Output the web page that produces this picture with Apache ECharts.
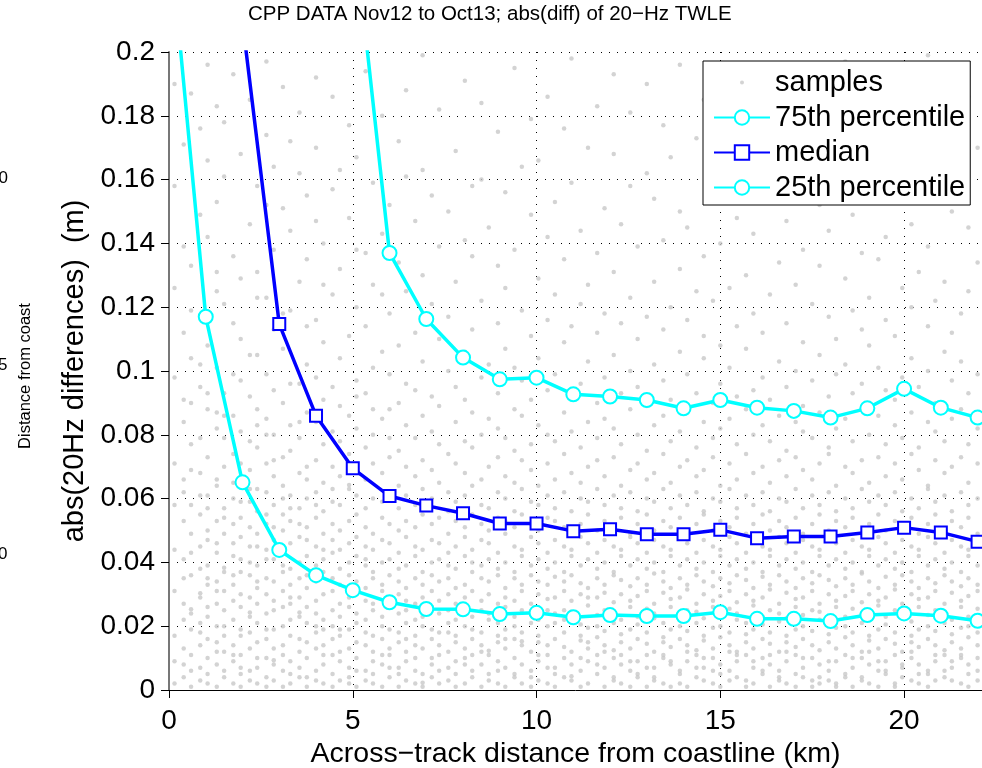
<!DOCTYPE html>
<html>
<head>
<meta charset="utf-8">
<script src="https://cdn.jsdelivr.net/npm/echarts@6.0.0/dist/echarts.min.js"></script>
<style>
  html, body { margin: 0; padding: 0; background: #fff; }
  #chart { width: 982px; height: 768px; }
</style>
</head>
<body>
<div id="chart"></div>
<script>
// across-track distance of the percentile points (km)
const distance = [0, 1, 2, 3, 4, 5, 6, 7, 8, 9, 10, 11, 12, 13, 14, 15, 16, 17, 18, 19, 20, 21, 22];

// percentiles of abs(20Hz differences) (m); null = not drawn
const p75 = [null, null, null, null, null, 0.242, 0.137, 0.1163, 0.1042, 0.0974, 0.0979, 0.0927, 0.092,
  0.0909, 0.0883, 0.0909, 0.0885, 0.0875, 0.0854, 0.0883, 0.0944, 0.0885, 0.0854];
const median = [null, null, 0.2095, 0.1147, 0.086, 0.0695, 0.0608, 0.0578, 0.0554, 0.0522, 0.0522, 0.0498, 0.0504,
  0.0488, 0.0488, 0.0502, 0.0476, 0.0481, 0.0481, 0.0494, 0.0509, 0.0494, 0.0465];
const p25 = [0.239, 0.117, 0.0651, 0.0439, 0.036, 0.0313, 0.0275, 0.0254, 0.0253, 0.0238, 0.0242, 0.0228, 0.0235,
  0.0232, 0.0232, 0.0244, 0.0223, 0.0223, 0.0216, 0.0235, 0.024, 0.0233, 0.0217];

// background samples: column positions (km) and the values in each column (mm)
const sampleX = [0.15, 0.4, 0.6, 0.85, 1.05, 1.3, 1.5, 1.75, 1.95, 2.2, 2.4, 2.65, 2.85, 3.1, 3.3, 3.55, 3.75, 4.0,
  4.2, 4.45, 4.65, 4.9, 5.1, 5.35, 5.55, 5.8, 6.0, 6.25, 6.45, 6.7, 6.9, 7.15, 7.35, 7.6, 7.8, 8.05, 8.25, 8.5,
  8.7, 8.95, 9.15, 9.4, 9.6, 9.85, 10.05, 10.3, 10.5, 10.75, 10.95, 11.2, 11.4, 11.65, 11.85, 12.1, 12.3, 12.55,
  12.75, 13.0, 13.2, 13.45, 13.65, 13.9, 14.1, 14.35, 14.55, 14.8, 15.0, 15.25, 15.45, 15.7, 15.9, 16.15, 16.35,
  16.6, 16.8, 17.05, 17.25, 17.5, 17.7, 17.95, 18.15, 18.4, 18.6, 18.85, 19.05, 19.3, 19.5, 19.75, 19.95, 20.2,
  20.4, 20.65, 20.85, 21.1, 21.3, 21.55, 21.75, 22.0];
const sampleY = [
  [2, 9, 17, 31, 44, 58, 71, 98, 126, 158, 190],
  [4, 8, 13, 22, 27, 35, 41, 53, 62, 66, 84, 91, 112, 139, 171],
  [1, 6, 11, 19, 24, 25.3, 36, 43, 49, 58, 69, 77, 90, 104, 119, 133, 187],
  [3, 7, 14, 18, 21, 29, 30.3, 38, 45, 55, 61, 68, 79, 95, 102, 117, 149, 176],
  [2, 5, 10, 16, 23, 26, 33, 35, 39, 47, 50, 57, 61, 73, 88, 93, 108, 142, 166, 196],
  [1, 8, 12, 15, 20, 27, 31, 34, 43, 46, 53, 64, 66, 82, 87, 101, 125, 131, 153, 183],
  [4, 6, 12, 17, 20, 25, 31, 37, 38.3, 49, 54, 57, 70, 79, 86, 93, 121, 161, 178],
  [2, 9, 11, 14, 22, 28, 33, 36, 42, 46, 52, 60, 65, 74, 86, 99, 115, 136, 193],
  [1, 5, 7, 11, 17, 19, 26, 30, 37, 41, 48, 54, 59, 65, 71, 81, 97, 110, 129, 168],
  [3, 6, 13, 18, 23, 24.3, 29, 36, 40, 45, 51, 59, 63, 69, 78, 92, 105, 146, 185],
  [2, 7, 10, 15, 21, 27, 32, 34, 39, 45, 49, 56, 63, 76, 83, 88, 105, 123, 131, 158],
  [1, 4, 10, 16, 19, 24, 30, 35, 41, 44, 52, 55, 62, 71, 80, 85, 99, 123, 152, 174, 197],
  [3, 8, 9.3, 13, 19, 25, 28, 34, 41, 47, 51, 58, 67, 72, 80, 94, 113, 138, 164],
  [1, 6, 11, 14, 20, 26, 31, 37, 39, 43, 50, 55, 60, 64, 73, 90, 107, 118, 151, 189],
  [2, 5, 9, 17, 22, 27, 29, 33, 38, 46, 53, 57, 61, 75, 83, 96, 119, 144, 172],
  [4, 7, 12, 16, 23, 24.3, 29, 35, 40, 48, 52, 57, 68, 79, 84, 96, 128, 162, 181],
  [1, 4, 10, 15, 21, 26, 32, 36, 42, 47, 51, 60, 66, 70, 87, 102, 114, 135, 155],
  [3, 6, 13, 18, 20, 24, 28, 34, 39, 45, 54, 58, 62, 72, 84, 98, 116, 147, 170, 192],
  [2, 8, 11, 14, 19, 22, 30, 37, 41, 44, 49, 56, 65, 77, 91, 109, 127, 140],
  [1, 5, 11, 16, 20, 25, 31, 35, 43, 47, 52, 59, 63, 70, 81, 95, 124, 157, 186],
  [3, 9, 12, 17, 19, 23, 27, 33, 38, 44, 50, 58, 67, 78, 89, 104, 132, 163],
  [2, 4, 7, 13, 19, 26, 29, 36, 40, 46, 53, 63, 64.3, 74, 86, 111, 148, 177],
  [1, 6, 10, 15, 21, 24, 30, 34, 42, 48, 55, 61, 69, 82, 92, 97, 120, 138, 167],
  [3, 6, 14, 18, 22, 28, 32, 39, 41, 45, 51, 57, 66, 76, 93, 114, 137, 194],
  [2, 5, 9, 12, 17, 25, 27, 35, 37, 44, 49, 60, 71, 80, 88, 101, 127, 159],
  [1, 8, 11, 16, 20, 23, 31, 33, 40, 47, 54, 59, 68, 85, 106, 124, 143, 180],
  [4, 7, 11, 13, 19, 26, 29, 36, 41, 46, 52, 62, 73, 79, 88, 99, 118, 152],
  [1, 5, 7, 15, 18, 24, 30, 34, 38, 43, 50, 57, 64, 75, 90, 108, 134, 172],
  [3, 9, 12, 16, 21, 25, 28, 32, 39, 48, 53, 61, 70, 83, 96, 125, 161, 188],
  [2, 6, 10, 14, 17, 22, 27, 35, 42, 45, 51, 58, 67, 79, 94, 112, 147],
  [1, 2.3, 5, 13, 20, 23, 29, 33, 37, 44, 55, 63, 72, 86, 103, 130, 163, 199],
  [4, 8, 10, 16, 19, 26, 31, 36, 40, 47, 52, 60, 69, 81, 92, 121, 155],
  [2, 6, 11, 14, 18, 24, 28, 34, 41, 46, 54, 65, 77, 89, 110, 139, 182],
  [3, 7, 12, 18, 21, 25, 30, 35, 39, 43, 49, 56, 62, 74, 100, 117, 150],
  [1, 5, 9, 15, 17, 22, 27, 32, 38, 45, 53, 59, 71, 84, 95, 128, 169],
  [2, 8, 10, 13, 20, 26, 29, 33, 42, 48, 51, 61, 68, 78, 91, 106, 141, 191],
  [4, 6, 11, 16, 19, 23, 31, 37, 40, 44, 55, 64, 76, 87, 113, 136, 158],
  [1, 8, 12, 14, 18, 25, 28, 35, 39, 47, 52, 58, 66, 80, 98, 122, 160, 184],
  [3, 5, 11, 12.3, 22, 24, 30, 34, 41, 46, 50, 57, 70, 85, 102, 145],
  [2, 6, 9, 15, 17, 21, 27, 36, 38, 43, 54, 62, 73, 82, 93, 115, 133, 175],
  [1, 7, 13, 16, 19, 26, 29, 32, 40, 49, 53, 60, 67, 79, 107, 126, 156],
  [4, 5, 10, 16, 20, 23, 28, 35, 37, 45, 51, 56, 65, 75, 88, 101, 138, 195],
  [2, 8, 14, 15.3, 18, 25, 31, 33, 42, 44, 55, 63, 72, 86, 97, 119, 164],
  [1, 4, 6, 12, 21, 24, 27, 36, 39, 48, 52, 59, 69, 77, 91, 111, 149, 179],
  [3, 9, 11, 15, 17, 22, 30, 34, 41, 46, 50, 58, 64, 83, 104, 129, 166],
  [2, 7, 11, 14, 20, 25, 28.5, 33, 38, 43, 54, 61, 71, 80, 94, 116, 142, 186],
  [1, 5, 7, 16, 21, 24, 29, 35.5, 40, 47, 53, 57, 66, 78, 99, 124, 153],
  [4, 10, 13.5, 18, 22, 25, 31, 34, 37, 45, 51, 62, 74, 87, 109, 135, 176],
  [3, 4.3, 8, 12, 21.5, 24.5, 28, 36, 42, 44, 49, 56, 68, 81, 92, 114, 159, 198],
  [1, 6, 10, 15.5, 17, 20.5, 30, 33.5, 39, 48, 52, 60, 65, 76, 96, 121, 144],
  [2, 9, 13, 15, 19.5, 26.5, 29, 32, 41, 46, 55, 59, 70, 84, 103, 127, 170],
  [5, 8, 11, 16.5, 20, 23.5, 29, 35, 38, 43, 50, 63, 72, 79, 90, 112, 137, 183],
  [1, 7, 12, 14, 18.5, 25, 30.5, 33, 40, 47, 53, 58, 67, 85, 98, 118, 151],
  [3, 4, 10, 12.5, 21, 24, 27.5, 36, 37, 45, 51, 61, 73, 82, 105, 131, 168, 193],
  [2, 8, 11, 15, 17.5, 22, 30, 34.5, 42, 44, 54, 57, 64, 77, 93, 115, 146],
  [1, 6, 9, 13, 19, 26, 28, 32.5, 39, 48, 49, 62, 69, 88, 100, 123, 158, 181],
  [4, 5, 9, 16, 20.5, 23, 29.5, 35, 41, 46, 52, 56, 71, 80, 95, 110, 139],
  [1, 7, 11, 14.5, 18, 25.5, 31, 33, 38, 43, 55, 60, 66, 75, 89, 117, 162, 190],
  [3, 4, 7, 12, 22.5, 24, 27, 36.5, 40, 47, 50, 59, 68, 83, 102, 128, 154],
  [2, 10, 11, 15, 16.5, 21, 30.5, 34, 37, 45, 53, 63, 74, 86, 97, 113, 141, 177],
  [1, 8, 9, 13.5, 19, 26, 28.5, 32, 42, 44, 51, 57, 65, 78, 91, 120, 167],
  [2, 5, 6, 16, 20, 23.5, 29, 35, 39, 48, 54, 61, 70, 81, 106, 132, 150, 196],
  [1, 9, 12, 14, 18.5, 25, 31.5, 33, 41, 46, 49, 58, 72, 87, 99, 116, 145],
  [4, 7, 11, 12.5, 21, 24.5, 27, 36, 38, 43, 52, 62, 67, 76, 93, 125, 173],
  [3, 7, 10, 15.5, 17, 22.5, 30, 34, 40, 47, 55, 56, 69, 84, 104, 111, 136, 185],
  [2, 6, 10, 13, 19.5, 26, 28, 32.5, 37, 45, 50, 60, 73, 79, 90, 122, 157],
  [1, 5, 8, 16.5, 20, 23, 29.5, 35, 42, 44, 53, 59, 64, 82, 96, 108, 140, 178],
  [3, 6, 12, 14, 18, 25.5, 31, 33.5, 39, 48, 51, 63, 71, 85, 101, 126, 163],
  [4, 9, 11, 12, 22, 24, 27.5, 36, 41, 46, 54, 57, 66, 77, 92, 114, 148, 192],
  [1, 3, 11, 15, 17.5, 21, 30, 34.5, 38, 43, 49, 61, 74, 88, 107, 130, 171],
  [2, 7, 9, 13, 19, 26.5, 28, 32, 40, 47, 52, 58, 68, 80, 94, 118, 143],
  [5, 6, 10, 16, 20.5, 23, 29, 35.5, 37, 45, 55, 62, 70, 83, 98, 112, 155, 187],
  [1, 8, 11, 14.5, 18, 25, 31.5, 33, 42, 44, 50, 56, 65, 78, 91, 124, 165],
  [3, 4, 6, 12, 21.5, 24, 27, 36, 39, 48, 53, 60, 72, 86, 103, 134, 180],
  [2, 9, 12, 15, 17, 22.5, 30.5, 34, 41, 46, 51, 59, 67, 75, 95, 115, 147],
  [1, 5, 11, 13.5, 19, 26, 28.5, 32, 38, 43, 54, 63, 73, 84, 100, 127, 160, 194],
  [4, 7, 10, 16, 20, 23.5, 29, 35, 40, 47, 49, 57, 69, 81, 89, 109, 138],
  [1, 3, 10, 14, 18.5, 25, 31, 33.5, 37, 45, 52, 61, 66, 79, 97, 121, 169],
  [2, 4, 8, 12.5, 22, 24.5, 27, 36, 42, 44, 55, 58, 71, 87, 105, 133, 152, 188],
  [3, 6, 9, 15, 17.5, 21, 30, 34.5, 39, 48, 50, 62, 74, 76, 92, 117, 144],
  [1, 2, 9, 13, 19.5, 26, 28, 32.5, 41, 46, 53, 56, 64, 82, 99, 110, 161],
  [4, 5, 11, 16.5, 20, 23, 29.5, 35, 38, 43, 51, 60, 70, 85, 102, 129, 175, 197],
  [1, 7, 10, 14, 18, 25.5, 31, 33, 40, 47, 54, 57, 68, 78, 93, 119, 149],
  [3, 4, 10, 12, 21, 24, 27.5, 36.5, 37, 45, 49, 63, 72, 88, 96, 113, 137, 182],
  [2, 8, 12, 15.5, 17, 22, 30, 34, 42, 44, 52, 59, 65, 80, 108, 123, 166],
  [1, 6, 9, 13, 19, 26.5, 28, 32, 39, 48, 55, 61, 73, 86, 101, 135, 156],
  [5, 6, 9, 16, 20.5, 23, 29, 35.5, 41, 46, 50, 58, 67, 77, 94, 116, 142, 189],
  [1, 2, 11, 14.5, 18, 25, 31.5, 33, 38, 43, 53, 62, 71, 83, 91, 111, 172],
  [4, 7, 8, 12, 22.5, 24, 27, 36, 40, 47, 51, 56, 66, 79, 98, 126, 153],
  [3, 10, 12, 15, 17, 21.5, 30, 34, 37, 45, 54, 60, 74, 87, 104, 120, 146, 184],
  [2, 5, 8, 13.5, 19, 26, 28.5, 32, 42, 44, 49, 57, 69, 76, 95, 131, 168],
  [1, 5, 6, 16, 20, 23.5, 29, 35, 39, 48, 52, 63, 64, 84, 100, 114, 139, 199],
  [3, 9, 11, 14, 18.5, 25, 31, 33.5, 41, 46, 55, 59, 72, 81, 90, 122, 158],
  [4, 6, 11, 12.5, 21, 24.5, 27, 36, 38, 43, 50, 61, 68, 78, 106, 128, 176],
  [3, 7, 9, 15, 17.5, 22, 30.5, 34, 40, 47, 53, 56, 70, 85, 97, 112, 150, 191],
  [2, 10, 11, 13, 19.5, 26, 28, 32.5, 37, 45, 51, 62, 73, 88, 103, 118, 164],
  [1, 5, 8, 16.5, 20, 23, 29.5, 35, 42, 44, 54, 58, 65, 77, 93, 125, 145, 186],
  [3, 6, 10, 14, 18, 25.5, 31, 33, 39, 48, 49, 60, 71, 82, 99, 134, 170]
];

// y tick values (m)
const yTicks = [0, 0.02, 0.04, 0.06, 0.08, 0.1, 0.12, 0.14, 0.16, 0.18, 0.2];

const samples = [];
sampleX.forEach((x, i) => {
  sampleY[i].forEach(v => samples.push([x, v / 1000]));
});
const pairs = arr => distance.map((d, i) => [d, arr[i]]);

const FONT = "'Liberation Sans', Helvetica, Arial, sans-serif";
const dotted = { color: '#000', width: 1, type: [1, 7] };

const option = {
  animation: false,
  title: {
    text: 'CPP DATA Nov12 to Oct13; abs(diff) of 20\u2212Hz TWLE',
    left: 248,
    top: 4,
    padding: 0,
    textStyle: { fontFamily: FONT, fontSize: 20.5, fontWeight: 'normal', color: '#000' }
  },
  legend: {
    left: 703,
    top: 61,
    orient: 'vertical',
    selectedMode: false,
    itemWidth: 56,
    itemHeight: 18,
    itemGap: 6,
    padding: [7, 5, 3, 10],
    borderColor: '#000',
    borderWidth: 1,
    backgroundColor: '#fff',
    textStyle: { fontFamily: FONT, fontSize: 29, lineHeight: 29, color: '#000' },
    data: [
      { name: 'samples', icon: 'path://M0,0M56,18M26,9a2,2 0 1,0 4,0a2,2 0 1,0 -4,0' },
      '75th percentile', 'median', '25th percentile'
    ]
  },
  grid: { left: 169, top: 52, width: 813, height: 638, outerBoundsMode: 'none' },
  xAxis: {
    type: 'value',
    min: 0,
    max: 22.12,
    interval: 5,
    name: 'Across\u2212track distance from coastline (km)',
    nameLocation: 'middle',
    nameGap: 46,
    nameTextStyle: { fontFamily: FONT, fontSize: 28.5, color: '#000' },
    axisLine: { onZero: false, lineStyle: { color: '#000', width: 1 } },
    axisTick: { length: 8, lineStyle: { color: '#000' } },
    axisLabel: { fontFamily: FONT, fontSize: 28, color: '#000', margin: 17, showMaxLabel: false },
    splitLine: { show: true, lineStyle: dotted }
  },
  yAxis: {
    type: 'value',
    min: yTicks[0],
    max: yTicks[yTicks.length - 1],
    interval: yTicks[1] - yTicks[0],
    name: 'abs(20Hz differences)  (m)',
    nameLocation: 'middle',
    nameGap: 78,
    nameTextStyle: { fontFamily: FONT, fontSize: 29, color: '#000' },
    axisLine: { lineStyle: { color: '#777', width: 2 } },
    axisTick: { length: 8, lineStyle: { color: '#000' } },
    axisLabel: { fontFamily: FONT, fontSize: 28, color: '#000', margin: 14 },
    splitLine: { show: true, lineStyle: dotted }
  },
  graphic: [
    { type: 'text', left: -11, top: 170, style: { text: '10', font: '17px ' + FONT, fill: '#000' } },
    { type: 'text', left: -2, top: 357, style: { text: '5', font: '17px ' + FONT, fill: '#000' } },
    { type: 'text', left: -2, top: 546, style: { text: '0', font: '17px ' + FONT, fill: '#000' } },
    { type: 'text', x: 25, y: 376, rotation: Math.PI / 2,
      style: { text: 'Distance from coast', font: '16.5px ' + FONT, fill: '#000', align: 'center', verticalAlign: 'middle' } }
  ],
  series: [
    {
      name: 'samples',
      type: 'scatter',
      data: samples,
      symbolSize: 4.5,
      itemStyle: { color: '#c8c8c8' },
      silent: true,
      z: 1
    },
    {
      name: '75th percentile',
      type: 'line',
      data: pairs(p75),
      symbol: 'emptyCircle',
      symbolSize: 14,
      color: '#00ffff',
      lineStyle: { width: 3.5, color: '#00ffff' },
      itemStyle: { color: '#00ffff', borderWidth: 3 },
      z: 3
    },
    {
      name: 'median',
      type: 'line',
      data: pairs(median),
      symbol: 'emptyRect',
      symbolSize: 12,
      color: '#0000ff',
      lineStyle: { width: 3.5, color: '#0000ff' },
      itemStyle: { color: '#0000ff', borderWidth: 3 },
      z: 3
    },
    {
      name: '25th percentile',
      type: 'line',
      data: pairs(p25),
      symbol: 'emptyCircle',
      symbolSize: 14,
      color: '#00ffff',
      lineStyle: { width: 3.5, color: '#00ffff' },
      itemStyle: { color: '#00ffff', borderWidth: 3 },
      z: 3
    }
  ]
};

const myChart = echarts.init(document.getElementById('chart'));
myChart.setOption(option);
</script>
</body>
</html>
